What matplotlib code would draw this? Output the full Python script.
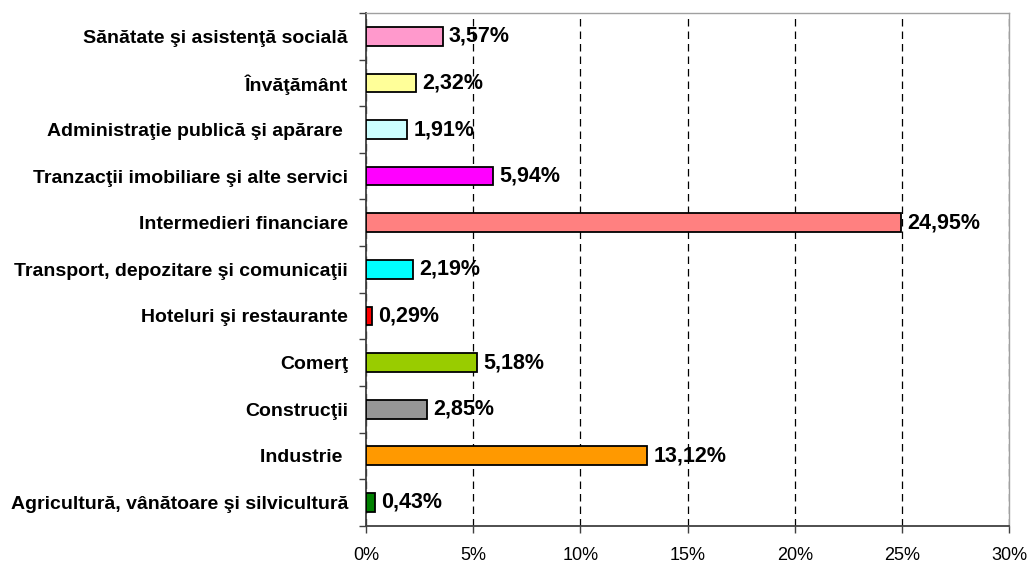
import matplotlib
matplotlib.use("Agg")
import matplotlib.pyplot as plt
from matplotlib.ticker import FuncFormatter

categories = [
    "Agricultură, vânătoare şi silvicultură",
    "Industrie ",
    "Construcţii",
    "Comerţ",
    "Hoteluri şi restaurante",
    "Transport, depozitare şi comunicaţii",
    "Intermedieri financiare",
    "Tranzacţii imobiliare şi alte servici",
    "Administraţie publică şi apărare ",
    "Învăţământ",
    "Sănătate şi asistenţă socială",
]
values = [0.43, 13.12, 2.85, 5.18, 0.29, 2.19, 24.95, 5.94, 1.91, 2.32, 3.57]
colors = ["#008000", "#FF9900", "#969696", "#99CC00", "#FF0000", "#00FFFF",
          "#FF8080", "#FF00FF", "#CCFFFF", "#FFFF99", "#FF99CC"]
xticks = [0, 5, 10, 15, 20, 25, 30]

plt.rcParams['font.family'] = ['Liberation Sans', 'DejaVu Sans']

fig = plt.figure(figsize=(10.29, 5.67), dpi=100)
ax = fig.add_axes([0.3557, 0.0728, 0.6249, 0.9042])

y = list(range(len(categories)))
ax.barh(y, values, height=0.4, color=colors, edgecolor="black", linewidth=1.3, zorder=3)

for yi, v in zip(y, values):
    ax.annotate(f"{v:.2f}%".replace(".", ","), xy=(v, yi), xytext=(4.5, 0),
                textcoords="offset points", va="center", ha="left",
                fontsize=15.5, fontweight="bold", zorder=4)

ax.set_xlim(0, 30)
ax.set_ylim(-0.5, len(categories) - 0.5)
ax.set_xticks(xticks)
ax.xaxis.set_major_formatter(FuncFormatter(lambda x, p: f"{x:.0f}%"))
ax.tick_params(axis="x", labelsize=13, length=5, width=1, color="#404040", pad=10)
ax.xaxis.grid(True, linestyle=(0, (6, 4)), color="black", linewidth=0.9, zorder=0)

ax.set_yticks(y)
ax.set_yticklabels(categories, fontsize=14, fontweight="bold")
ax.set_yticks([i - 0.5 for i in range(len(categories) + 1)], minor=True)
ax.tick_params(axis="y", which="major", length=0, pad=13)
ax.tick_params(axis="y", which="minor", length=5, width=1, color="#404040")

for s in ["top", "right"]:
    ax.spines[s].set_color("#A0A0A0")
    ax.spines[s].set_linewidth(1)
for s in ["left", "bottom"]:
    ax.spines[s].set_color("#404040")
    ax.spines[s].set_linewidth(1.3)

fig.savefig("out.png", dpi=100)
